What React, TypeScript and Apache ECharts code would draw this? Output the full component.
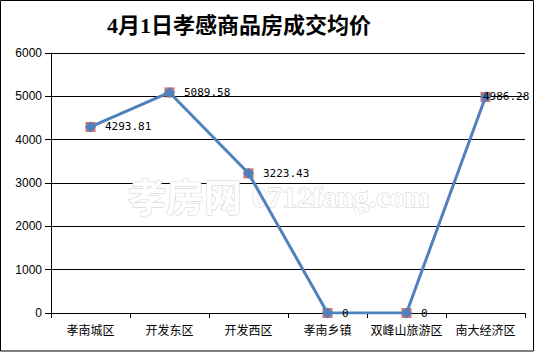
import React, { useEffect, useRef } from "react";
import * as echarts from "echarts";

const titleText = "4月1日孝感商品房成交均价";
const categories = ["孝南城区", "开发东区", "开发西区", "孝南乡镇", "双峰山旅游区", "南大经济区"];
const prices = [4293.81, 5089.58, 3223.43, 0, 0, 4986.28];
const priceLabels = ["4293.81", "5089.58", "3223.43", "0", "0", "4986.28"];
const yTicks = { min: 0, max: 6000, interval: 1000 };

export default function App() {
  const ref = useRef<HTMLDivElement>(null);
  useEffect(() => {
    if (!ref.current) return;
    const chart = echarts.init(ref.current, undefined, { renderer: "svg" });
    const lineData = prices.map((v, i) => {
      const item: any = { value: v };
      if (i === prices.length - 1) {
        item.label = { position: [3, 5.5], align: "left", verticalAlign: "middle" };
      }
      return item;
    });
    chart.setOption({
      animation: false,
      backgroundColor: "#ffffff",
      title: {
        text: titleText,
        left: 102,
        top: 9,
        textStyle: {
          fontFamily: "'Liberation Serif', 'Noto Sans CJK SC', serif",
          fontSize: 22,
          fontWeight: "bold",
          color: "#000",
          textShadowColor: "rgba(170,100,20,0.7)",
          textShadowOffsetX: 1,
          textShadowOffsetY: 1,
          textShadowBlur: 0,
        },
      },
      graphic: [
        {
          type: "rect",
          z: 100,
          shape: { x: 0.5, y: 0.5, width: 533, height: 350.5 },
          style: { fill: "none", stroke: "#000", lineWidth: 1 },
        },
        {
          type: "text",
          z: 1,
          x: 128,
          y: 194,
          style: {
            text: "孝房网",
            fontFamily: "'Noto Sans CJK SC', sans-serif",
            fontSize: 38,
            fontWeight: "bold",
            fill: "#ffffff",
            stroke: "#d0d0d0",
            lineWidth: 1,
            verticalAlign: "middle",
          },
        },
        {
          type: "text",
          z: 1,
          x: 252,
          y: 196,
          style: {
            text: "0712fang.com",
            fontFamily: "'Liberation Serif', serif",
            fontSize: 30,
            fontWeight: "bold",
            fill: "#ffffff",
            stroke: "#d0d0d0",
            lineWidth: 1,
            verticalAlign: "middle",
          },
        },
      ],
      grid: { left: 51, right: 12, top: 53, bottom: 39 },
      xAxis: {
        type: "category",
        data: categories,
        boundaryGap: true,
        axisLine: { lineStyle: { color: "#000", width: 1 } },
        axisTick: { show: true, length: 5, interval: 0, lineStyle: { color: "#000" } },
        axisLabel: {
          interval: 0,
          margin: 10,
          color: "#000",
          fontSize: 12,
          fontFamily: "'Noto Sans CJK SC', sans-serif",
        },
      },
      yAxis: {
        type: "value",
        min: yTicks.min,
        max: yTicks.max,
        interval: yTicks.interval,
        axisLine: { show: true, lineStyle: { color: "#000", width: 1 } },
        axisTick: { show: true, inside: false, length: 6, lineStyle: { color: "#000" } },
        axisLabel: {
          margin: 9,
          color: "#000",
          fontSize: 12,
          fontFamily: "'Liberation Sans', sans-serif",
          formatter: (v: number) => String(v),
        },
        splitLine: { show: true, lineStyle: { color: "#000", width: 1 } },
      },
      series: [
        {
          type: "scatter",
          data: prices,
          symbol: "rect",
          symbolSize: 10,
          itemStyle: { color: "#c0504d" },
          z: 3,
          silent: true,
        },
        {
          type: "line",
          data: lineData,
          symbol: "diamond",
          symbolSize: 11,
          showAllSymbol: true,
          lineStyle: { color: "#4f81bd", width: 3 },
          itemStyle: { color: "#4f81bd" },
          z: 4,
          label: {
            show: true,
            position: "right",
            distance: 9,
            color: "#000",
            fontSize: 11,
            fontFamily: "'DejaVu Sans Mono', monospace",
            formatter: (p: any) => priceLabels[p.dataIndex],
          },
        },
      ],
    });
    return () => chart.dispose();
  }, []);
  return (
    <div
      ref={ref}
      style={{ position: "fixed", left: 0, top: 0, width: 537, height: 352 }}
    />
  );
}
